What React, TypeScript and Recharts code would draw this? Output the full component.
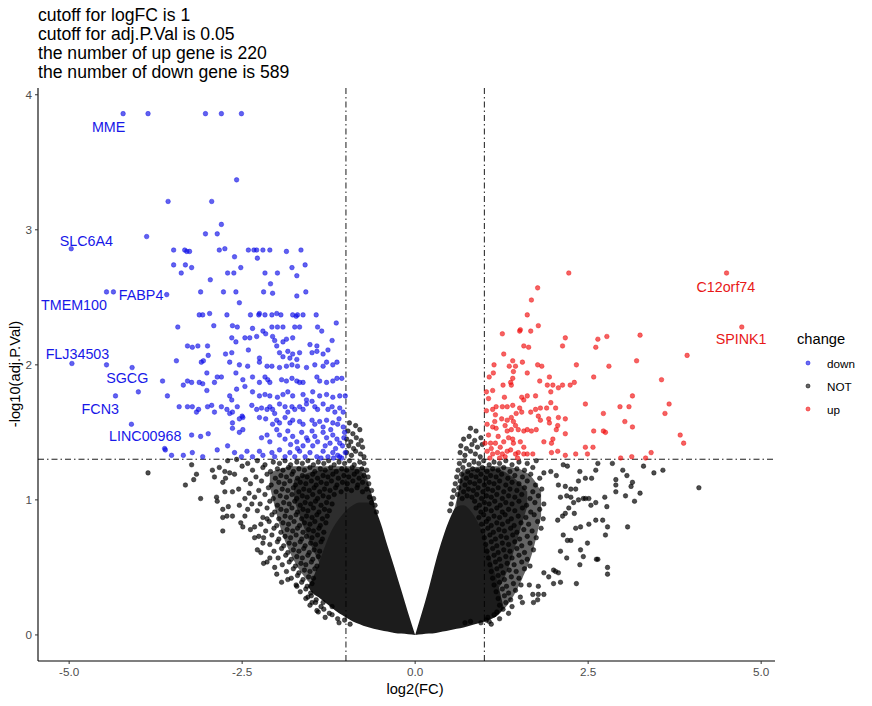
import React from "react"
import { ComposedChart, Area, Scatter, XAxis, YAxis, ReferenceLine } from "recharts"

const FONT = '"Liberation Sans", Arial, Helvetica, sans-serif'

const titleLines = [
  "cutoff for logFC is 1",
  "cutoff for adj.P.Val is 0.05",
  "the number of up gene is 220",
  "the number of down gene is 589",
]

const xTicks = [-5, -2.5, 0, 2.5, 5]
const yTicks = [0, 1, 2, 3, 4]
const fcCutoff = 1
const pCutoff = 1.301

// solid dense core of the cloud (too many overlapping points to read one by one)
const coreLeftX = [-1.55, -1.5, -1.4, -1.3, -1.2, -1.1, -1.0, -0.9, -0.8, -0.7, -0.6, -0.5, -0.4, -0.3, -0.2, -0.1, 0]
const coreLeftLow = [0.36, 0.32, 0.28, 0.24, 0.2, 0.16, 0.13, 0.1, 0.08, 0.06, 0.045, 0.035, 0.025, 0.015, 0.01, 0.005, 0]
const coreLeftHigh = [0.36, 0.4, 0.52, 0.66, 0.78, 0.86, 0.92, 0.96, 0.98, 0.98, 0.95, 0.83, 0.66, 0.5, 0.33, 0.16, 0]
const coreRightX = [0, 0.1, 0.2, 0.3, 0.4, 0.5, 0.6, 0.7, 0.8, 0.9, 1.0, 1.1, 1.2, 1.28]
const coreRightLow = [0, 0.005, 0.01, 0.015, 0.025, 0.035, 0.045, 0.055, 0.07, 0.085, 0.1, 0.12, 0.15, 0.2]
const coreRightHigh = [0, 0.17, 0.35, 0.55, 0.72, 0.86, 0.95, 0.96, 0.92, 0.84, 0.72, 0.55, 0.37, 0.2]

// bands where the points overlap almost completely (outer and inner)
const bandLeftX = [-2.1, -1.95, -1.75, -1.55, -1.3, -1.0, -0.75, -0.66, -0.56]
const bandLeftLow = [1.1, 0.8, 0.55, 0.4, 0.28, 0.15, 0.1, 0.08, 0.05]
const bandLeftHigh = [1.2, 1.23, 1.25, 1.25, 1.25, 1.25, 1.24, 1.1, 0.92]
const innerLeftX = [-1.75, -1.55, -1.35, -1.1, -0.85, -0.7, -0.6]
const innerLeftLow = [1.0, 0.72, 0.5, 0.3, 0.2, 0.15, 0.1]
const innerLeftHigh = [1.15, 1.2, 1.22, 1.23, 1.23, 1.14, 0.98]
const bandRightX = [0.55, 0.62, 0.68, 1.0, 1.2, 1.4, 1.55, 1.7, 1.82]
const bandRightLow = [0.05, 0.06, 0.07, 0.1, 0.15, 0.27, 0.42, 0.62, 0.88]
const bandRightHigh = [0.9, 1.05, 1.22, 1.25, 1.25, 1.24, 1.22, 1.16, 1.06]
const innerRightX = [0.6, 0.7, 0.95, 1.15, 1.35, 1.5, 1.62]
const innerRightLow = [0.1, 0.15, 0.2, 0.3, 0.5, 0.75, 0.95]
const innerRightHigh = [0.98, 1.2, 1.23, 1.23, 1.19, 1.13, 1.06]

const notLeft = [
  [-0.95,1.57],[-0.86,1.55],[-0.97,1.51],[-0.9,1.49],[-0.8,1.52],
  [-0.99,1.45],[-0.93,1.43],[-0.85,1.46],[-0.78,1.44],[-0.96,1.4],[-0.89,1.38],[-0.82,1.41],[-0.76,1.39],
  [-0.99,1.35],[-0.92,1.33],[-0.86,1.36],[-0.79,1.34],[-0.74,1.32],
  [-2.42,1.27],[-2.28,1.29],[-2.17,1.26],[-2.05,1.28],[-1.96,1.27],[-1.88,1.29],[-1.8,1.26],[-1.71,1.28],[-1.63,1.27],[-1.55,1.29],[-1.47,1.26],[-1.4,1.28],[-1.32,1.27],[-1.25,1.29],[-1.17,1.26],[-1.1,1.28],[-1.02,1.27],[-0.95,1.29],[-0.88,1.26],[-0.8,1.28],[-0.74,1.27],
  [-2.35,1.22],[-2.2,1.24],[-2.09,1.21],[-1.99,1.23],[-1.91,1.22],[-1.83,1.24],[-1.76,1.21],[-1.68,1.23],[-1.6,1.22],[-1.52,1.24],[-1.45,1.21],[-1.37,1.23],[-1.3,1.22],[-1.22,1.24],[-1.14,1.21],[-1.06,1.23],[-0.99,1.22],[-0.91,1.24],[-0.84,1.21],[-0.77,1.23],[-0.7,1.22],
  [-2.3,1.17],[-2.14,1.19],[-2.02,1.16],[-1.94,1.18],[-1.86,1.17],[-1.78,1.19],[-1.7,1.16],[-1.63,1.18],[-1.56,1.17],[-1.48,1.19],[-1.41,1.16],[-1.33,1.18],[-1.26,1.17],[-1.19,1.19],[-1.11,1.16],[-1.03,1.18],[-0.96,1.17],[-0.88,1.19],[-0.81,1.16],[-0.74,1.18],[-0.68,1.17],
  [-2.38,1.12],[-2.22,1.14],[-2.08,1.11],[-1.97,1.13],[-1.89,1.12],[-1.81,1.14],[-1.73,1.11],[-1.66,1.13],[-1.58,1.12],[-1.5,1.14],[-1.43,1.11],[-1.36,1.13],[-1.28,1.12],[-1.21,1.14],[-1.13,1.11],[-1.05,1.13],[-0.98,1.12],[-0.9,1.14],[-0.83,1.11],[-0.76,1.13],[-0.67,1.12],
  [-2.26,1.07],[-2.12,1.09],[-2.01,1.06],[-1.92,1.08],[-1.84,1.07],[-1.76,1.09],[-1.68,1.06],[-1.61,1.08],[-1.53,1.07],[-1.46,1.09],[-1.38,1.06],[-1.31,1.08],[-1.23,1.07],[-1.15,1.09],[-1.07,1.06],[-0.99,1.08],[-0.92,1.07],[-0.84,1.09],[-0.76,1.06],[-0.7,1.08],[-0.63,1.07],
  [-2.32,1.02],[-2.17,1.04],[-2.05,1.01],[-1.95,1.03],[-1.86,1.02],[-1.78,1.04],[-1.71,1.01],[-1.63,1.03],[-1.56,1.02],[-1.48,1.04],[-1.41,1.01],[-1.33,1.03],[-1.25,1.02],[-1.17,1.04],[-0.66,1.02],[-0.6,1.01],
  [-2.24,0.97],[-2.1,0.99],[-1.99,0.96],[-1.9,0.98],[-1.82,0.97],[-1.74,0.99],[-1.66,0.96],[-1.59,0.98],[-1.51,0.97],[-1.44,0.99],[-1.36,0.96],[-1.28,0.98],[-1.2,0.97],[-0.63,0.98],[-0.58,0.96],
  [-2.28,0.92],[-2.14,0.94],[-2.03,0.91],[-1.94,0.93],[-1.86,0.92],[-1.78,0.94],[-1.7,0.91],[-1.62,0.93],[-1.55,0.92],[-1.47,0.94],[-1.39,0.91],[-1.31,0.93],[-1.24,0.92],[-0.56,0.91],
  [-2.2,0.87],[-2.07,0.89],[-1.97,0.86],[-1.88,0.88],[-1.8,0.87],[-1.72,0.89],[-1.64,0.86],[-1.57,0.88],[-1.49,0.87],[-1.42,0.89],[-1.34,0.86],[-1.27,0.88],
  [-2.23,0.82],[-2.11,0.84],[-2.0,0.81],[-1.91,0.83],[-1.83,0.82],[-1.75,0.84],[-1.67,0.81],[-1.6,0.83],[-1.52,0.82],[-1.45,0.84],[-1.37,0.81],[-1.29,0.83],
  [-2.16,0.77],[-2.04,0.79],[-1.94,0.76],[-1.85,0.78],[-1.77,0.77],[-1.7,0.79],[-1.62,0.76],[-1.54,0.78],[-1.47,0.77],[-1.39,0.79],[-1.32,0.76],
  [-2.19,0.72],[-2.07,0.74],[-1.97,0.71],[-1.88,0.73],[-1.8,0.72],[-1.72,0.74],[-1.64,0.71],[-1.57,0.73],[-1.49,0.72],[-1.41,0.74],[-1.34,0.71],
  [-2.1,0.67],[-1.99,0.69],[-1.9,0.66],[-1.82,0.68],[-1.74,0.67],[-1.66,0.69],[-1.59,0.66],[-1.51,0.68],[-1.44,0.67],[-1.36,0.69],
  [-2.04,0.62],[-1.93,0.64],[-1.84,0.61],[-1.76,0.63],[-1.68,0.62],[-1.61,0.64],[-1.53,0.61],[-1.46,0.63],[-1.38,0.62],
  [-1.98,0.57],[-1.87,0.59],[-1.79,0.56],[-1.71,0.58],[-1.63,0.57],[-1.55,0.59],[-1.48,0.56],[-1.4,0.58],
  [-1.92,0.52],[-1.82,0.54],[-1.73,0.51],[-1.65,0.53],[-1.58,0.52],[-1.5,0.54],[-1.42,0.51],
  [-1.86,0.47],[-1.76,0.49],[-1.68,0.46],[-1.6,0.48],[-1.52,0.47],[-1.45,0.49],
  [-1.79,0.42],[-1.7,0.44],[-1.62,0.41],[-1.54,0.43],[-1.47,0.42],
  [-1.72,0.37],[-1.64,0.39],[-1.56,0.36],[-1.49,0.38],
  [-1.66,0.32],[-1.58,0.34],[-1.51,0.31],
  [-1.58,0.27],[-1.5,0.29],[-1.43,0.26],
  [-1.52,0.22],[-1.44,0.24],[-1.36,0.21],
  [-1.4,0.17],[-1.32,0.19],[-1.24,0.16],
  [-1.3,0.13],[-1.2,0.15],[-1.12,0.12],
  [-1.1,0.09],[-1.02,0.11],[-0.94,0.08],
]

const notRight = [
  [0.8,1.53],[0.88,1.51],[0.7,1.45],[0.78,1.47],[0.86,1.44],[0.95,1.46],
  [0.66,1.4],[0.74,1.38],[0.82,1.41],[0.9,1.39],[0.97,1.41],
  [0.65,1.35],[0.72,1.33],[0.8,1.36],[0.87,1.34],[0.94,1.32],
  [0.64,1.27],[0.71,1.29],[0.78,1.26],[0.85,1.28],[0.92,1.27],[0.99,1.29],[1.07,1.26],[1.14,1.28],[1.22,1.27],[1.31,1.29],[1.4,1.26],[1.5,1.28],[1.62,1.27],[1.75,1.29],
  [0.62,1.22],[0.69,1.24],[0.76,1.21],[0.83,1.23],[0.9,1.22],[0.97,1.24],[1.04,1.21],[1.12,1.23],[1.2,1.22],[1.28,1.24],[1.37,1.21],[1.47,1.23],[1.58,1.22],[1.7,1.24],
  [0.6,1.17],[0.67,1.19],[0.74,1.16],[0.81,1.18],[0.88,1.17],[0.95,1.19],[1.02,1.16],[1.09,1.18],[1.17,1.17],[1.25,1.19],[1.34,1.16],[1.44,1.18],[1.55,1.17],[1.67,1.19],[1.8,1.16],
  [0.58,1.12],[0.65,1.14],[0.72,1.11],[0.79,1.13],[0.86,1.12],[0.93,1.14],[1.0,1.11],[1.07,1.13],[1.14,1.12],[1.22,1.14],[1.31,1.11],[1.4,1.13],[1.5,1.12],[1.62,1.14],[1.74,1.11],
  [0.56,1.07],[0.63,1.09],[0.7,1.06],[0.77,1.08],[0.84,1.07],[0.91,1.09],[0.98,1.06],[1.05,1.08],[1.12,1.07],[1.2,1.09],[1.28,1.06],[1.37,1.08],[1.47,1.07],[1.58,1.09],[1.7,1.06],[1.83,1.08],
  [0.54,1.02],[0.61,1.04],[0.68,1.01],[0.75,1.03],[0.82,1.02],[0.89,1.04],[0.96,1.01],[1.03,1.03],[1.1,1.02],[1.18,1.04],[1.26,1.01],[1.35,1.03],[1.44,1.02],[1.54,1.04],[1.66,1.01],[1.78,1.03],
  [0.52,0.97],[0.86,0.99],[0.93,0.96],[1.0,0.98],[1.07,0.97],[1.15,0.99],[1.23,0.96],[1.31,0.98],[1.4,0.97],[1.5,0.99],[1.61,0.96],[1.73,0.98],[1.86,0.97],
  [0.5,0.92],[0.88,0.94],[0.95,0.91],[1.02,0.93],[1.1,0.92],[1.18,0.94],[1.26,0.91],[1.35,0.93],[1.44,0.92],[1.55,0.94],[1.67,0.91],[1.8,0.93],
  [0.92,0.87],[0.99,0.89],[1.06,0.86],[1.14,0.88],[1.22,0.87],[1.3,0.89],[1.39,0.86],[1.49,0.88],[1.6,0.87],[1.72,0.89],[1.85,0.86],
  [0.96,0.82],[1.03,0.84],[1.1,0.81],[1.18,0.83],[1.26,0.82],[1.34,0.84],[1.43,0.81],[1.53,0.83],[1.64,0.82],[1.77,0.84],
  [0.98,0.77],[1.05,0.79],[1.13,0.76],[1.21,0.78],[1.29,0.77],[1.38,0.79],[1.47,0.76],[1.57,0.78],[1.69,0.77],[1.82,0.79],
  [1.0,0.72],[1.08,0.74],[1.16,0.71],[1.24,0.73],[1.32,0.72],[1.41,0.74],[1.51,0.71],[1.62,0.73],[1.75,0.72],
  [1.02,0.67],[1.1,0.69],[1.18,0.66],[1.26,0.68],[1.35,0.67],[1.44,0.69],[1.54,0.66],[1.66,0.68],
  [1.04,0.62],[1.12,0.64],[1.2,0.61],[1.28,0.63],[1.37,0.62],[1.47,0.64],[1.58,0.61],[1.71,0.63],
  [1.06,0.57],[1.14,0.59],[1.22,0.56],[1.31,0.58],[1.4,0.57],[1.5,0.59],[1.62,0.56],
  [1.08,0.52],[1.16,0.54],[1.24,0.51],[1.33,0.53],[1.43,0.52],[1.54,0.54],[1.66,0.51],
  [1.1,0.47],[1.18,0.49],[1.27,0.46],[1.36,0.48],[1.46,0.47],[1.58,0.49],
  [1.12,0.42],[1.2,0.44],[1.29,0.41],[1.39,0.43],[1.5,0.42],
  [1.14,0.37],[1.22,0.39],[1.32,0.36],[1.42,0.38],[1.53,0.37],
  [1.17,0.32],[1.26,0.34],[1.35,0.31],[1.45,0.33],
  [1.2,0.27],[1.29,0.29],[1.38,0.26],
  [1.22,0.22],[1.31,0.24],[1.4,0.21],
  [1.18,0.17],[1.27,0.19],[1.35,0.16],
  [1.05,0.13],[1.14,0.15],[1.22,0.12],
  [0.95,0.09],[1.03,0.11],[1.1,0.08],
]

const notSparse = [
  [-3.86,1.2],[-3.32,1.11],[-3.2,1.15],[-3.16,1.19],[-3.23,1.26],[-3.1,1.01],[-2.93,1.22],[-2.9,1.17],[-2.87,1.02],[-2.86,0.99],
  [-2.78,0.93],[-2.78,0.87],[-2.72,0.88],[-2.78,0.77],[-2.7,0.95],[-2.64,0.88],[-2.78,1.13],[-2.74,1.16],[-2.83,1.24],[-2.75,1.21],
  [-2.68,1.2],[-2.61,1.19],[-2.58,1.3],[-2.71,1.29],[-2.75,1.06],[-2.64,1.06],[-2.54,0.96],[-2.52,0.83],[-2.49,0.8],[-2.46,1.01],
  [-2.42,0.93],[-2.32,0.8],[-2.32,0.72],[-2.26,0.73],[-2.2,0.68],[-2.14,0.86],[-2.19,0.53],[-2.14,0.54],[-2.23,0.61],[-2.03,0.5],
  [-1.93,0.39],[-1.84,0.41],[-1.71,0.36],[-1.55,0.28],[-1.49,0.24],[-1.42,0.18],[-1.33,0.24],[-1.2,0.21],
  [-2.5,1.25],[-2.45,1.15],[-2.55,1.08],[-2.4,1.05],[-2.36,0.97],[-2.46,0.88],[-2.38,0.78],[-2.28,0.63],[-2.1,0.57],[-2.0,0.45],
  [4.1,1.09],[3.58,1.22],[3.0,1.22],[3.06,1.18],[2.9,1.15],[2.9,1.11],[2.9,1.06],[3.14,1.13],[3.12,1.1],[3.25,1.05],
  [3.04,1.03],[3.17,0.99],[3.07,0.8],[2.78,0.8],[2.75,0.74],[2.64,0.56],[2.78,0.5],[2.78,0.45],[2.33,0.38],[2.71,0.85],
  [2.61,0.85],[2.74,1.02],[2.77,0.95],[2.61,0.98],[2.54,0.96],[2.51,1.01],[2.43,1.01],[2.64,1.27],[2.61,1.22],[2.38,1.21],
  [2.46,1.16],[2.36,1.14],[2.32,1.08],[2.55,1.16],[2.3,0.9],[2.32,0.79],[2.39,0.8],[2.51,0.82],[2.49,0.68],[2.39,0.63],
  [2.43,0.58],[2.62,0.56],[2.38,0.52],[2.25,0.7],[2.14,0.74],[2.2,0.7],[2.1,0.62],[2.19,0.57],[2.0,0.48],[2.07,0.46],
  [2.1,0.39],[2.0,0.38],[1.86,0.3],[1.78,0.3],[1.7,0.3],[1.77,0.26],[1.71,0.24],[1.52,0.28],[1.55,0.24],[1.65,0.37],
  [1.78,0.36],[1.86,0.46],[1.93,0.43],[2.03,0.47],[2.06,0.85],[2.13,0.88],[2.17,0.9],[2.22,0.94],[2.29,0.98],[2.36,1.0],
  [2.46,1.01],[2.1,1.02],[2.19,1.03],[2.25,1.02],[2.07,1.11],[2.17,1.1],[2.25,1.08],[2.14,1.26],[2.2,1.25],[2.04,1.18],
  [1.96,1.21],[1.86,1.2],[1.07,0.1],[0.8,0.1],[0.72,0.09],[2.85,1.27],[3.3,1.25],[3.45,1.2],
]

const downPoints = [
  [-4.22,3.86],[-3.86,3.86],[-3.03,3.86],[-2.8,3.86],[-2.51,3.86],
  [-2.58,3.37],[-3.57,3.21],[-2.94,3.21],[-2.8,3.04],[-3.03,2.97],[-2.86,2.97],[-3.88,2.95],[-4.97,2.86],
  [-3.49,2.85],[-3.33,2.85],[-3.3,2.84],[-3.26,2.84],[-2.83,2.85],[-2.75,2.86],[-2.41,2.85],[-2.33,2.85],[-2.29,2.85],[-2.2,2.85],[-2.1,2.85],[-1.86,2.84],[-1.65,2.85],
  [-3.49,2.74],[-3.32,2.74],[-3.23,2.72],[-1.59,2.74],[-2.61,2.8],[-2.28,2.79],[-2.52,2.72],[-1.78,2.72],
  [-3.38,2.68],[-2.71,2.68],[-2.62,2.68],[-2.17,2.68],[-1.99,2.68],[-1.71,2.66],[-2.96,2.63],[-2.09,2.6],
  [-4.46,2.54],[-4.36,2.54],[-3.59,2.52],[-3.1,2.54],[-2.77,2.54],[-2.59,2.54],[-2.19,2.54],[-2.06,2.53],[-1.71,2.51],[-1.58,2.54],[-2.54,2.46],
  [-3.12,2.37],[-3.07,2.37],[-2.97,2.38],[-2.72,2.37],[-2.38,2.37],[-2.26,2.37],[-2.25,2.38],[-2.17,2.37],[-2.07,2.37],[-2.0,2.38],[-1.94,2.37],[-1.77,2.37],[-1.72,2.36],[-1.7,2.37],[-1.62,2.37],[-1.43,2.37],
  [-3.43,2.28],[-2.91,2.29],[-2.64,2.29],[-2.57,2.28],[-2.35,2.27],[-2.2,2.25],[-2.16,2.23],[-2.07,2.28],[-1.99,2.28],[-1.91,2.28],[-1.74,2.28],[-1.67,2.28],[-1.41,2.28],[-1.14,2.31],[-1.35,2.25],
  [-2.65,2.2],[-2.59,2.17],[-2.46,2.2],[-2.39,2.2],[-2.29,2.21],[-2.06,2.21],[-2.03,2.18],[-1.91,2.17],[-1.86,2.19],[-1.77,2.2],[-1.52,2.15],[-1.42,2.14],[-1.2,2.18],
  [-3.29,2.14],[-3.22,2.13],[-3.14,2.14],[-3.0,2.14],
  [-3.45,2.03],[-2.99,2.07],[-2.74,2.08],[-2.65,2.09],[-2.41,2.11],[-2.25,2.05],[-2.0,2.14],[-1.96,2.09],[-1.91,2.06],[-1.84,2.1],[-1.81,2.05],[-1.77,2.08],[-1.71,2.04],[-1.67,2.09],[-1.49,2.09],[-1.42,2.1],[-1.33,2.08],[-1.26,2.11],[-1.13,2.02],
  [-3.09,2.02],[-3.06,2.03],[-2.68,2.02],[-2.54,2.0],[-2.42,1.99],[-2.25,2.02],[-2.14,1.99],[-2.07,1.99],[-1.96,1.98],[-1.86,1.99],[-1.78,2.0],[-1.7,1.99],[-1.57,1.98],[-1.45,2.0],[-1.33,1.99],[-1.28,2.02],[-1.19,2.0],
  [-3.01,1.94],[-2.86,1.91],[-2.8,1.91],[-2.59,1.94],[-2.49,1.89],[-3.65,1.88],[-3.29,1.88],[-3.23,1.87],[-3.12,1.87],[-3.07,1.86],[-3.35,1.85],[-2.9,1.87],[-2.35,1.91],[-2.25,1.87],[-2.17,1.91],[-2.13,1.89],[-2.1,1.87],[-1.93,1.89],[-1.86,1.88],[-1.78,1.9],[-1.71,1.88],[-1.67,1.87],[-1.62,1.87],[-1.42,1.91],[-1.38,1.88],[-1.28,1.87],[-1.19,1.88],[-1.13,1.9],[-1.06,1.9],
  [-3.01,1.81],[-2.68,1.77],[-2.65,1.74],[-2.58,1.82],[-2.46,1.84],[-2.35,1.8],[-2.25,1.77],[-2.17,1.78],[-2.1,1.77],[-1.99,1.76],[-1.91,1.78],[-1.84,1.8],[-1.77,1.77],[-1.62,1.78],[-1.57,1.74],[-1.48,1.8],[-1.38,1.77],[-1.28,1.78],[-1.19,1.76],[-1.09,1.77],[-1.01,1.77],
  [-3.58,1.77],[-3.41,1.69],[-3.29,1.69],[-3.22,1.69],[-3.16,1.65],[-3.13,1.67],[-3.0,1.69],[-2.94,1.7],[-2.9,1.65],[-2.8,1.69],[-2.72,1.67],[-2.68,1.64],[-2.64,1.65],[-2.57,1.69],[-2.49,1.61],[-2.5,1.62],[-2.36,1.7],[-2.29,1.67],[-2.22,1.68],[-2.14,1.67],[-2.1,1.69],[-2.06,1.67],[-2.03,1.64],[-1.96,1.71],[-1.88,1.69],[-1.84,1.65],[-1.78,1.69],[-1.74,1.67],[-1.67,1.69],[-1.62,1.67],[-1.57,1.71],[-1.49,1.73],[-1.45,1.69],[-1.41,1.67],[-1.33,1.71],[-1.26,1.67],[-1.2,1.69],[-1.16,1.65],[-1.09,1.68],[-1.04,1.65],
  [-2.64,1.57],[-2.54,1.6],[-2.25,1.61],[-2.16,1.6],[-2.06,1.56],[-2.0,1.59],[-1.96,1.57],[-1.88,1.61],[-1.81,1.57],[-1.77,1.59],[-1.67,1.58],[-1.62,1.56],[-1.49,1.59],[-1.45,1.56],[-1.38,1.58],[-1.33,1.54],[-1.28,1.59],[-1.19,1.57],[-1.12,1.56],[-1.04,1.54],
  [-3.23,1.48],[-3.1,1.47],[-2.99,1.49],[-2.64,1.53],[-2.54,1.5],[-2.49,1.52],[-2.22,1.46],[-2.14,1.48],[-2.1,1.43],[-2.0,1.52],[-1.96,1.48],[-1.88,1.45],[-1.84,1.51],[-1.77,1.47],[-1.71,1.43],[-1.64,1.5],[-1.57,1.46],[-1.49,1.51],[-1.45,1.47],[-1.41,1.43],[-1.33,1.5],[-1.28,1.46],[-1.23,1.42],[-1.19,1.48],[-1.13,1.45],[-1.09,1.42],[-1.03,1.46],
  [-3.62,1.38],[-3.52,1.33],[-3.35,1.33],[-3.22,1.35],[-3.07,1.32],[-2.86,1.37],[-2.71,1.4],[-2.61,1.35],[-2.51,1.32],[-2.43,1.36],[-2.35,1.32],[-2.25,1.36],[-2.2,1.33],[-2.07,1.35],[-2.03,1.32],[-1.96,1.37],[-1.88,1.32],[-1.81,1.35],[-1.74,1.32],[-1.67,1.36],[-1.59,1.32],[-1.52,1.35],[-1.42,1.32],[-1.33,1.36],[-1.26,1.32],[-1.19,1.35],[-1.09,1.32],[-1.01,1.35],
  [-4.96,2.01],[-4.46,2.0],[-4.09,1.98],[-4.33,1.77],[-4.0,1.8],[-4.1,1.56],[-3.61,1.37],
  [-1.15,1.38],[-1.05,1.4],[-1.22,1.52],[-1.1,1.6],[-1.02,1.5],[-1.3,1.4],[-1.12,1.33],[-1.06,1.31],[-1.18,1.31],[-1.36,1.31],[-1.48,1.4],[-1.55,1.44],[-1.62,1.4],[-1.7,1.38],[-1.8,1.41],
]

const upPoints = [
  [4.5,2.68],[2.22,2.68],[1.77,2.57],[1.68,2.48],[1.62,2.37],[1.78,2.29],[4.72,2.28],[1.26,2.23],[1.52,2.26],[1.51,2.25],[1.67,2.25],[3.25,2.22],[2.77,2.21],[2.64,2.19],[2.17,2.2],[2.13,2.14],[1.57,2.14],[1.64,2.13],[2.61,2.13],[3.93,2.07],[1.28,2.08],[3.2,2.03],[1.14,2.0],[1.41,2.03],[1.55,2.02],[1.36,1.99],[1.45,1.99],[1.77,2.0],[1.83,1.99],[2.33,2.0],[2.8,1.99],
  [1.13,1.94],[1.07,1.91],[1.42,1.95],[1.62,1.94],[1.41,1.9],[1.8,1.88],[1.27,1.85],[1.38,1.87],[1.39,1.85],[1.94,1.91],[1.91,1.85],[1.99,1.85],[2.07,1.83],[2.13,1.85],[2.24,1.85],[2.3,1.87],[2.58,1.91],[3.56,1.89],
  [1.03,1.8],[1.12,1.81],[1.96,1.8],[1.62,1.77],[1.74,1.77],[1.06,1.75],[1.29,1.76],[1.54,1.76],[1.57,1.74],[1.96,1.72],[3.14,1.77],[2.46,1.71],[2.96,1.69],[3.09,1.69],[3.67,1.71],[3.61,1.64],
  [1.26,1.69],[1.33,1.69],[1.41,1.7],[1.17,1.69],[1.12,1.67],[1.03,1.66],[1.51,1.68],[1.46,1.64],[1.54,1.65],[1.67,1.65],[1.74,1.67],[1.81,1.68],[1.9,1.68],[2.03,1.68],[2.07,1.61],[2.72,1.64],[3.03,1.58],
  [1.16,1.63],[1.25,1.6],[1.33,1.59],[1.39,1.61],[1.42,1.58],[1.78,1.62],[1.81,1.59],[1.93,1.6],[1.94,1.57],[2.17,1.6],[3.14,1.54],
  [1.04,1.56],[1.12,1.54],[1.17,1.53],[1.33,1.51],[1.39,1.52],[1.49,1.52],[1.57,1.51],[1.62,1.52],[1.68,1.51],[1.75,1.52],[2.06,1.55],[2.04,1.52],[2.58,1.51],[2.72,1.51],[2.75,1.5],[2.17,1.49],[3.83,1.48],[3.88,1.42],
  [1.01,1.42],[1.09,1.42],[1.16,1.42],[1.23,1.39],[1.28,1.43],[1.35,1.46],[1.41,1.45],[1.42,1.42],[1.52,1.43],[1.57,1.39],[1.86,1.43],[1.99,1.45],[1.97,1.42],[2.46,1.39],[2.57,1.39],
  [1.04,1.36],[1.12,1.34],[1.19,1.35],[1.26,1.34],[1.33,1.36],[1.38,1.37],[1.45,1.34],[1.49,1.35],[1.57,1.34],[1.62,1.34],[1.7,1.34],[1.97,1.35],[2.06,1.36],[2.17,1.33],[2.32,1.34],[2.49,1.34],[2.97,1.31],[3.13,1.32],[3.33,1.31],[3.41,1.35],
  [1.06,1.48],[1.2,1.47],[1.3,1.55],[1.1,1.38],[1.22,1.31],[1.3,1.32],[1.48,1.31],[1.08,1.31],[1.15,1.58],[1.45,1.55],
]

const downLabelNames = ["MME", "SLC6A4", "TMEM100", "FABP4", "FLJ34503", "SGCG", "FCN3", "LINC00968"]
const downLabelX = [-4.43, -4.75, -4.93, -3.96, -4.88, -4.16, -4.55, -3.9]
const downLabelY = [3.76, 2.92, 2.44, 2.52, 2.08, 1.9, 1.67, 1.47]
const upLabelNames = ["C12orf74", "SPINK1"]
const upLabelX = [4.49, 4.71]
const upLabelY = [2.58, 2.19]

const legendNames = ["down", "NOT", "up"]
const COLORS: Record<string, string> = { down: "#0c0ce6", NOT: "#000000", up: "#f00c0c" }

const toXY = (pts: number[][]) => pts.map(([x, y]) => ({ x, y }))
const band = (key: string, xs: number[], lo: number[], hi: number[]) =>
  xs.map((x, i) => ({ x, [key]: [lo[i], hi[i]] }))

const coreRows = [
  ...band("bandLeft", bandLeftX, bandLeftLow, bandLeftHigh),
  ...band("bandRight", bandRightX, bandRightLow, bandRightHigh),
  ...band("innerLeft", innerLeftX, innerLeftLow, innerLeftHigh),
  ...band("innerRight", innerRightX, innerRightLow, innerRightHigh),
  ...band("left", coreLeftX, coreLeftLow, coreLeftHigh),
  ...band("right", coreRightX, coreRightLow, coreRightHigh),
]

const notData = toXY([...notSparse, ...notLeft, ...notRight])
const downData = toXY(downPoints)
const upData = toXY(upPoints)
const downLabels = downLabelNames.map((name, i) => ({ x: downLabelX[i], y: downLabelY[i], name }))
const upLabels = upLabelNames.map((name, i) => ({ x: upLabelX[i], y: upLabelY[i], name }))

function dot(color: string, fillOpacity: number) {
  return (p: any) => (
    <circle cx={p.cx} cy={p.cy} r={2.3} fill={color} fillOpacity={fillOpacity}
      stroke={color} strokeOpacity={0.6} strokeWidth={0.7} />
  )
}

function label(color: string) {
  return (p: any) => (
    <text x={p.cx} y={p.cy} fill={color} fontSize={14.3} fontFamily={FONT}
      textAnchor="middle" dominantBaseline="central">
      {p.payload?.name ?? p.name}
    </text>
  )
}

function XTick(p: any) {
  return (
    <text x={p.x} y={p.y} dy="0.71em" textAnchor="middle" fill="#4d4d4d" fontSize={11.7} fontFamily={FONT}>
      {Number(p.payload.value).toFixed(1)}
    </text>
  )
}

function YTick(p: any) {
  return (
    <text x={p.x} y={p.y} dy="0.36em" textAnchor="end" fill="#4d4d4d" fontSize={11.7} fontFamily={FONT}>
      {p.payload.value}
    </text>
  )
}

export default function App() {

  return (

    <div style={{ position: "absolute", left: 0, top: 0, width: 872, height: 706, background: "#fff", fontFamily: FONT }}>

      <div style={{ position: "absolute", left: 38, top: 6, fontSize: 17.6, lineHeight: "19px", color: "#000", whiteSpace: "pre" }}>
        {titleLines.map((t) => <div key={t}>{t}</div>)}
      </div>

      <ComposedChart width={872} height={706} data={coreRows}
        margin={{ top: 88, right: 97, bottom: 0, left: 0 }}>

        <XAxis type="number" dataKey="x" domain={[-5.45, 5.2]} ticks={xTicks} allowDataOverflow
          tick={<XTick />} tickSize={3} tickMargin={4}
          tickLine={{ stroke: "#333" }} axisLine={{ stroke: "#000", strokeWidth: 1.1 }} height={45} />

        <YAxis type="number" dataKey="y" domain={[-0.193, 4.05]} ticks={yTicks} allowDataOverflow
          tick={<YTick />} tickSize={3} tickMargin={3} tickLine={{ stroke: "#333" }}
          axisLine={{ stroke: "#000", strokeWidth: 1.1 }} width={38} />

        <Area type="monotone" dataKey="bandLeft" stroke="none" fill="#1c1c1c" fillOpacity={0.68}
          isAnimationActive={false} connectNulls />
        <Area type="monotone" dataKey="bandRight" stroke="none" fill="#1c1c1c" fillOpacity={0.68}
          isAnimationActive={false} connectNulls />
        <Area type="monotone" dataKey="innerLeft" stroke="none" fill="#1c1c1c" fillOpacity={0.75}
          isAnimationActive={false} connectNulls />
        <Area type="monotone" dataKey="innerRight" stroke="none" fill="#1c1c1c" fillOpacity={0.75}
          isAnimationActive={false} connectNulls />
        <Area type="monotone" dataKey="left" stroke="none" fill="#1c1c1c" fillOpacity={1}
          isAnimationActive={false} connectNulls />
        <Area type="monotone" dataKey="right" stroke="none" fill="#1c1c1c" fillOpacity={1}
          isAnimationActive={false} connectNulls />

        <Scatter data={notData} shape={dot(COLORS.NOT, 0.7)} isAnimationActive={false} />
        <Scatter data={downData} shape={dot(COLORS.down, 0.65)} isAnimationActive={false} />
        <Scatter data={upData} shape={dot(COLORS.up, 0.65)} isAnimationActive={false} />

        <ReferenceLine x={-fcCutoff} stroke="#000" strokeWidth={0.9} strokeDasharray="6 3 1.5 3" />
        <ReferenceLine x={fcCutoff} stroke="#000" strokeWidth={0.9} strokeDasharray="6 3 1.5 3" />
        <ReferenceLine y={pCutoff} stroke="#000" strokeWidth={0.9} strokeDasharray="6 3 1.5 3" />

        <Scatter data={downLabels} shape={label("#1818e8")} isAnimationActive={false} />
        <Scatter data={upLabels} shape={label("#e81818")} isAnimationActive={false} />

      </ComposedChart>

      <div style={{ position: "absolute", left: 365, width: 100, top: 681, textAlign: "center", fontSize: 14.7, lineHeight: "17px" }}>
        log2(FC)
      </div>

      <div style={{ position: "absolute", left: 15, top: 374, fontSize: 14.7, whiteSpace: "nowrap",
        transform: "translate(-50%, -50%) rotate(-90deg)" }}>
        -log10(adj.P.Val)
      </div>

      <div style={{ position: "absolute", left: 797, top: 330, fontSize: 14.7, lineHeight: "18px" }}>change</div>
      {legendNames.map((n, i) => (
        <div key={n} style={{ position: "absolute", left: 804, top: 355 + i * 23, height: 16, display: "flex", alignItems: "center" }}>
          <svg width={10} height={10}>
            <circle cx={4} cy={5} r={2} fill={COLORS[n]} fillOpacity={0.6} stroke={COLORS[n]} strokeOpacity={0.55} />
          </svg>
          <span style={{ marginLeft: 13, fontSize: 11.7 }}>{n}</span>
        </div>
      ))}

    </div>

  )

}
